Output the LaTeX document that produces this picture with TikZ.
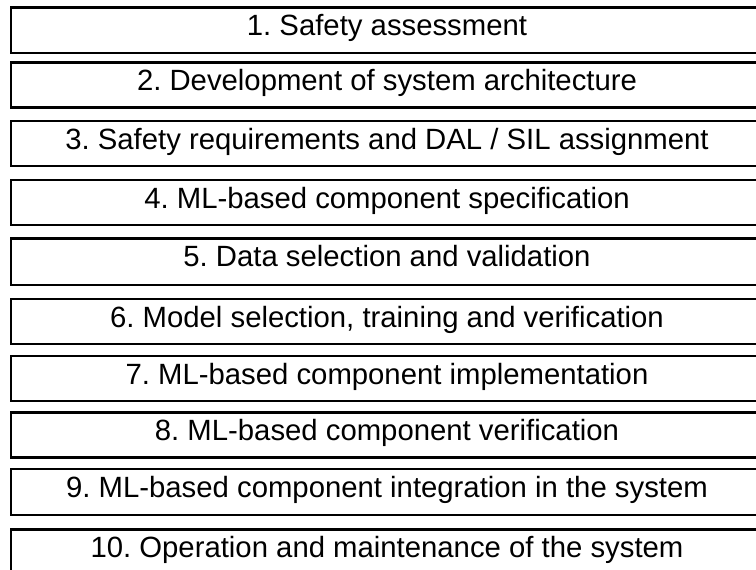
\documentclass[tikz,border=0pt]{standalone}
\usepackage{fontspec}
\setmainfont{Liberation Sans}
\tikzset{
  stagebox/.style={draw=black, line width=2.4pt},
  stagetext/.style={anchor=base, inner sep=0pt, font=\fontsize{29.3}{33}\selectfont}
}
\begin{document}
\frenchspacing
\begin{tikzpicture}[x=1pt,y=-1pt]
\useasboundingbox (0,0) rectangle (756,570);
\clip (0,0) rectangle (756,570);
\fill[white] (0,0) rectangle (756,570);
% process stages: top edge / bottom edge / caption
\foreach \t/\b/\txt [count=\i] in {
  7.3/52.7/{1. Safety assessment},
  62.3/107.3/{2. Development of system architecture},
  120.7/166/{3. Safety requirements and DAL / SIL assignment},
  180/225/{4. ML-based component specification},
  238.3/285/{5. Data selection and validation},
  299/344/{6. Model selection, training and verification},
  355.7/400.7/{7. ML-based component implementation},
  412.3/457.3/{8. ML-based component verification},
  469/515/{9. ML-based component integration in the system},
  529.3/576/{10. Operation and maintenance of the system}}
{
  \draw[stagebox] (11,\t) rectangle (772,\b);
  \node[stagetext] (s\i) at (387,\t+28.5) {\txt};
}
\end{tikzpicture}
\end{document}
